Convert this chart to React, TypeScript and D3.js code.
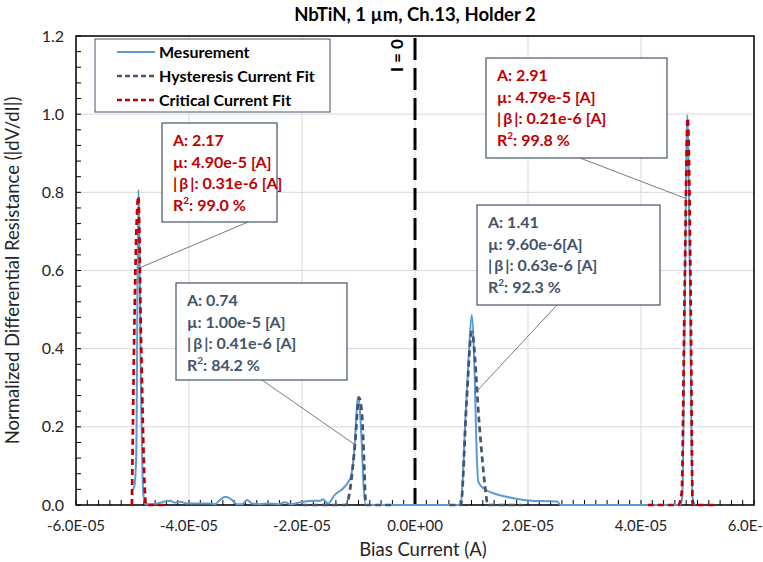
import * as d3 from 'd3';

// bias current in µA, normalized |dV/dI|
const measCurrent = [-50.3, -49.7, -49.35, -48.95, -48.5, -48.1, -47.7, -46.4, -44.6, -43.4, -42.5, -41.6, -40.4, -38.6, -36.3, -35.4, -34.5, -33.5, -32.4, -31.5, -30.6, -29.7, -28.9, -27.4, -26.0, -24.2, -23.0, -22.1, -20.0, -18.1, -16.8, -16.3, -15.4, -14.2, -12.7, -12.0, -11.3, -10.8, -10.05, -9.5, -9.1, -8.7, -6, -2, 2, 6, 8.1, 8.5, 8.85, 9.5, 10.04, 10.6, 10.9, 11.2, 12.1, 13.9, 16.2, 19.2, 22.1, 25.1, 25.8, 30, 35, 40, 44, 46.9, 47.3, 47.7, 48.2, 48.75, 49.1, 49.5];
const measValue = [0.034, 0.046, 0.12, 0.806, 0.3, 0.03, 0.002, 0.002, 0.008, 0.011, 0.006, 0.008, 0.004, 0.004, 0.004, 0.002, 0.013, 0.021, 0.013, 0.002, 0.002, 0.013, 0.004, 0.002, 0.004, 0.002, 0.007, 0.002, 0.008, 0.011, 0.011, 0.015, 0.004, 0.026, 0.043, 0.055, 0.075, 0.13, 0.277, 0.18, 0.05, 0, 0, 0, 0, 0, 0, 0.08, 0.2, 0.38, 0.486, 0.31, 0.14, 0.06, 0.043, 0.03, 0.021, 0.013, 0.01, 0.009, 0, 0, 0, 0, 0, 0, 0.02, 0.45, 0.998, 0.45, 0.02, 0];

const hystLeftCurrent = [-20, -16, -13, -12.2, -11.6, -10.6, -9.9, -9.4, -9.0, -8.7, -7, -4];
const hystLeftValue = [0, 0, 0, 0, 0.03, 0.158, 0.275, 0.235, 0.107, 0, 0, 0];
const hystRightCurrent = [6.1, 7.5, 8.1, 9.15, 10.04, 11.5, 12.4, 12.9, 15, 19];
const hystRightValue = [0, 0, 0, 0.269, 0.443, 0.184, 0.047, 0, 0, 0];

const critLeftCurrent = [-50.1, -49.7, -48.97, -48.5, -47.6, -46, -43.7];
const critLeftValue = [0, 0.43, 0.79, 0.43, 0, 0, 0];
const critRightCurrent = [41.2, 44, 46.6, 47.2, 47.7, 48.27, 48.8, 49.15, 51, 53.4];
const critRightValue = [0, 0, 0, 0.03, 0.525, 0.99, 0.525, 0, 0, 0];

const xTicks = [-6e-5, -4e-5, -2e-5, 0, 2e-5, 4e-5, 6e-5];
const xTickLabels = ['-6.0E-05', '-4.0E-05', '-2.0E-05', '0.0E+00', '2.0E-05', '4.0E-05', '6.0E-05'];
const yTicks = [0, 0.2, 0.4, 0.6, 0.8, 1.0, 1.2];

const seriesNames = ['Mesurement', 'Hysteresis Current Fit', 'Critical Current Fit'];

const RED = '#c00000';
const SLATE = '#44546a';
const BLUE = '#5b9bd5';

const B = '|\u2009β\u2009|';
const annotations = [
  { color: RED, box: [162, 123, 115, 99], from: [248, 222], at: [-48.7, 0.607], lines: ['A: 2.17', 'µ: 4.90e-5 [A]', `${B}: 0.31e-6 [A]`, '99.0 %'] },
  { color: SLATE, box: [176, 283, 171, 97], from: [262, 380], at: [-10.6, 0.154], lines: ['A: 0.74', 'µ: 1.00e-5 [A]', `${B}: 0.41e-6 [A]`, '84.2 %'] },
  { color: SLATE, box: [477, 205, 183, 100], from: [557, 305], at: [10.6, 0.286], lines: ['A: 1.41', 'µ: 9.60e-6[A]', `${B}: 0.63e-6 [A]`, '92.3 %'] },
  { color: RED, box: [486, 58, 181, 100], from: [580, 158], at: [47.8, 0.785], lines: ['A: 2.91', 'µ: 4.79e-5 [A]', `${B}: 0.21e-6 [A]`, '99.8 %'] },
];

const FONT = 'Lato, "Open Sans", sans-serif';

export default function App() {
  const width = 763;
  const height = 562;
  const margin = { top: 36, right: 9, bottom: 57, left: 76 };
  const x = d3.scaleLinear().domain([-6e-5, 6e-5]).range([margin.left, width - margin.right]);
  const y = d3.scaleLinear().domain([0, 1.2]).range([height - margin.bottom, margin.top]);
  const line = d3
    .line<[number, number]>()
    .x((d) => x(d[0] * 1e-6))
    .y((d) => y(d[1]))
    .curve(d3.curveMonotoneX);
  const pts = (cx: number[], vy: number[]) => cx.map((c, i) => [c, vy[i]] as [number, number]);

  const x0 = x.range()[0];
  const x1 = x.range()[1];
  const y0 = y.range()[0];
  const y1 = y.range()[1];

  const xMinor = d3.range(-60, 60.1, 2).map((v) => v * 1e-6);
  const yMinor = d3.range(0, 1.201, 0.04);

  return (
    <svg
      width={width}
      height={height}
      style={{ position: 'absolute', left: 0, top: 0, background: '#fff', fontFamily: FONT }}
    >
      <text x={415} y={21} textAnchor="middle" fontSize={18.5} fontWeight="bold" fill="#000">
        NbTiN, 1 µm, Ch.13, Holder 2
      </text>

      {/* grid */}
      {yTicks.map((t) => (
        <line key={'gy' + t} x1={x0} x2={x1} y1={y(t)} y2={y(t)} stroke="#d9d9d9" strokeWidth={1} />
      ))}
      {xTicks.map((t) => (
        <line key={'gx' + t} x1={x(t)} x2={x(t)} y1={y0} y2={y1} stroke="#d9d9d9" strokeWidth={1} />
      ))}

      {/* minor ticks */}
      {xMinor.map((t, i) => (
        <line key={'mx' + i} x1={x(t)} x2={x(t)} y1={y0} y2={y0 - 5} stroke="#000" strokeWidth={1} />
      ))}
      {yMinor.map((t, i) => (
        <line key={'my' + i} x1={x0} x2={x0 + 5} y1={y(t)} y2={y(t)} stroke="#000" strokeWidth={1} />
      ))}

      {/* frame */}
      <rect x={x0} y={y1} width={x1 - x0} height={y0 - y1} fill="none" stroke="#000" strokeWidth={1.5} />

      {/* I = 0 line */}
      <line x1={x(0)} x2={x(0)} y1={y1 + 2} y2={y0} stroke="#000" strokeWidth={3} strokeDasharray="22,8" />
      <text
        transform={`translate(${x(0) - 12},${y(1.15)}) rotate(-90)`}
        textAnchor="middle"
        fontSize={17}
        fontWeight="bold"
        fill="#000"
      >
        I = 0
      </text>

      {/* series */}
      <path d={line(pts(measCurrent, measValue)) || ''} fill="none" stroke={BLUE} strokeWidth={2} />
      <path d={line(pts(hystLeftCurrent, hystLeftValue)) || ''} fill="none" stroke={SLATE} strokeWidth={2.7} strokeDasharray="6,4" />
      <path d={line(pts(hystRightCurrent, hystRightValue)) || ''} fill="none" stroke={SLATE} strokeWidth={2.7} strokeDasharray="6,4" />
      <path d={line(pts(critLeftCurrent, critLeftValue)) || ''} fill="none" stroke={RED} strokeWidth={2.7} strokeDasharray="6,4" />
      <path d={line(pts(critRightCurrent, critRightValue)) || ''} fill="none" stroke={RED} strokeWidth={2.7} strokeDasharray="6,4" />

      {/* tick labels */}
      {xTicks.map((t, i) => (
        <text key={'xl' + t} x={x(t)} y={y0 + 26} textAnchor="middle" fontSize={15} fill="#262626">
          {xTickLabels[i]}
        </text>
      ))}
      {yTicks.map((t) => (
        <text key={'yl' + t} x={x0 - 12} y={y(t) + 5.5} textAnchor="end" fontSize={16} fill="#262626">
          {t.toFixed(1)}
        </text>
      ))}

      {/* axis titles */}
      <text x={423} y={556} textAnchor="middle" fontSize={18.5} fill="#262626">
        Bias Current (A)
      </text>
      <text
        transform={`translate(19,${(y0 + y1) / 2}) rotate(-90)`}
        textAnchor="middle"
        fontSize={18.5}
        fill="#262626"
      >
        Normalized Differential Resistance (|dV/dI|)
      </text>

      {/* legend */}
      <rect x={95} y={39} width={235} height={73} fill="#fff" stroke={SLATE} strokeWidth={1} />
      {seriesNames.map((name, i) => {
        const ly = 52 + i * 24;
        const color = i === 0 ? BLUE : i === 1 ? SLATE : RED;
        return (
          <g key={name}>
            <line
              x1={117}
              x2={155}
              y1={ly}
              y2={ly}
              stroke={color}
              strokeWidth={i === 0 ? 2 : 2.5}
              strokeDasharray={i === 0 ? undefined : '5,3'}
            />
            <text x={159} y={ly + 5.5} fontSize={16} fontWeight="bold" fill="#000">
              {name}
            </text>
          </g>
        );
      })}

      {/* annotations */}
      {annotations.map((a, k) => {
        const [bx, by, bw, bh] = a.box;
        return (
          <g key={'an' + k}>
            <line
              x1={a.from[0]}
              y1={a.from[1]}
              x2={x(a.at[0] * 1e-6)}
              y2={y(a.at[1])}
              stroke="#595959"
              strokeWidth={0.8}
            />
            <rect x={bx} y={by} width={bw} height={bh} fill="#fff" stroke={SLATE} strokeWidth={1.2} />
            {a.lines.map((t, j) => (
              <text key={j} x={bx + 11} y={by + 23 + j * 21.5} fontSize={16} fontWeight="bold" fill={a.color}>
                {j === 3 ? (
                  <>
                    R<tspan fontSize={10} dy={-7}>2</tspan>
                    <tspan dy={7}>: {t}</tspan>
                  </>
                ) : (
                  t
                )}
              </text>
            ))}
          </g>
        );
      })}
    </svg>
  );
}
